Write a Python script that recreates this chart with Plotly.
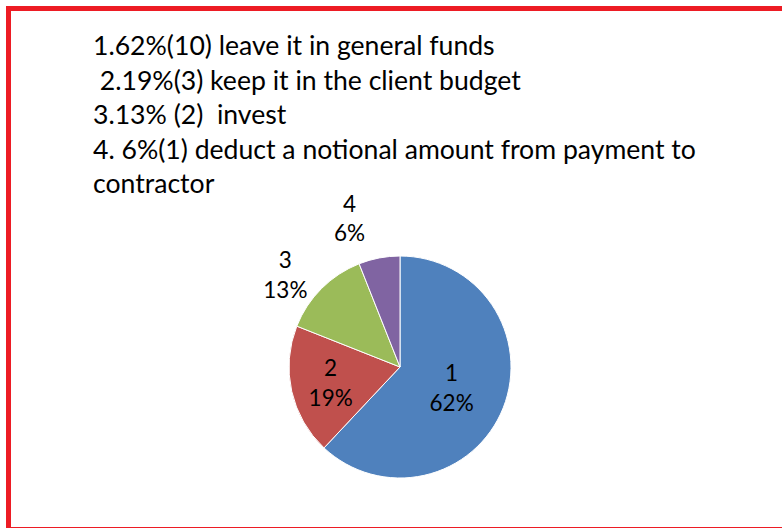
import plotly.graph_objects as go

# answers to the question, counts in brackets
labels = ['1', '2', '3', '4']
shares = [62, 19, 13, 6]
colors = ['#4F81BD', '#C0504D', '#9BBB59', '#8064A2']
text_lines = [
    '1.62%(10) leave it in general funds',
    ' 2.19%(3) keep it in the client budget',
    '3.13% (2)  invest',
    '4. 6%(1) deduct a notional amount from payment to',
    'contractor',
]

W, H = 782, 528
font_name = 'Lato'

fig = go.Figure()
fig.add_trace(go.Pie(
    labels=labels,
    values=shares,
    sort=False,
    direction='clockwise',
    rotation=0,
    marker=dict(colors=colors, line=dict(color='white', width=1)),
    textinfo='label+percent',
    textposition=['inside', 'inside', 'outside', 'outside'],
    insidetextorientation='horizontal',
    textfont=dict(family=font_name, size=22.5, color='black'),
    showlegend=False,
    hoverinfo='skip',
    domain=dict(x=[289 / W, 511 / W], y=[1 - 478 / H, 1 - 256 / H]),
))

# text block above the pie, one line per annotation
for i, line in enumerate(text_lines):
    if line.startswith(' '):
        line = '&nbsp;' + line[1:]
    fig.add_annotation(
        xref='paper', yref='paper',
        x=91 / W, y=1 - (45 + i * 34.5) / H,
        xanchor='left', yanchor='middle',
        text=line.replace('  ', ' &nbsp;'),
        showarrow=False,
        font=dict(family=font_name, size=26.6, color='black'),
    )

# red frame round the slide
fig.add_shape(
    type='rect', xref='paper', yref='paper',
    x0=8.5 / W, x1=1.05, y0=1 - 529.5 / H, y1=1 - 8.5 / H,
    line=dict(color='#ED1C24', width=5),
)

fig.update_layout(
    width=W, height=H,
    margin=dict(l=0, r=0, t=0, b=0),
    paper_bgcolor='white',
    plot_bgcolor='white',
)

# no page margin, and no leader lines on the outside labels
js = ("document.body.style.margin='0';"
      "document.querySelectorAll('.textline').forEach(function(e){e.style.display='none';});")
fig.write_html('out.html', post_script=js, config={'displayModeBar': False})
